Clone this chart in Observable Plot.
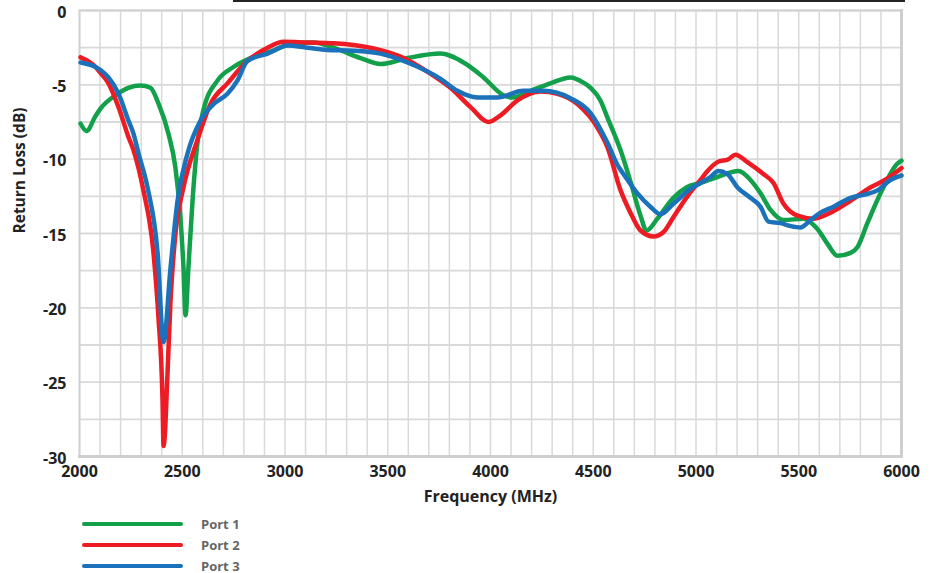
<!DOCTYPE html>
<html>
<head>
<meta charset="utf-8">
<script src="https://cdn.jsdelivr.net/npm/d3@7"></script>
<script src="https://cdn.jsdelivr.net/npm/@observablehq/plot@0.6"></script>
<style>
  body { margin: 0; background: #fff; font-family: "Open Sans", sans-serif; }
  #wrap { position: relative; width: 937px; height: 573px; overflow: hidden; }
  #topline { position: absolute; left: 233px; top: 0; width: 672px; height: 2px; background: #222; }
  #legend { position: absolute; left: 82px; top: 513px; }
  .item { display: flex; align-items: center; height: 21px; }
  .sw { width: 101px; height: 4px; border-radius: 2px; margin-right: 18px; }
  .lab { font-size: 13px; font-weight: 700; color: #666; line-height: 16px; }
</style>
</head>
<body>
<div id="wrap">
  <div id="chart"></div>
  <div id="topline"></div>
  <div id="legend"></div>
</div>
<script>
// ---- data ----
const seriesNames = ["Port 1", "Port 2", "Port 3"];
const seriesColors = ["#12a04b", "#ed1c24", "#1b72bb"];

const port1Freq = [2005, 2034, 2078, 2102, 2175, 2238, 2297, 2345, 2384, 2433, 2467, 2491, 2506, 2516, 2530, 2550, 2574, 2603, 2672, 2749, 2832, 2944, 3041, 3139, 3236, 3367, 3465, 3596, 3757, 3869, 3966, 4063, 4107, 4195, 4292, 4389, 4452, 4487, 4535, 4569, 4633, 4681, 4730, 4759, 4812, 4890, 4953, 5022, 5104, 5207, 5265, 5314, 5362, 5426, 5523, 5591, 5640, 5688, 5752, 5786, 5834, 5898, 5980, 6000];
const port1Loss = [-7.6, -8.1, -7.1, -6.6, -5.7, -5.2, -5.05, -5.2, -6.25, -8.3, -10.6, -13.9, -17.3, -20.5, -17.3, -12.8, -8.9, -6.7, -4.7, -3.8, -3.2, -2.7, -2.2, -2.15, -2.5, -3.2, -3.6, -3.2, -2.9, -3.5, -4.5, -5.7, -5.85, -5.4, -4.9, -4.5, -4.85, -5.2, -6.05, -7.2, -9.4, -11.5, -13.8, -14.8, -14.0, -12.6, -11.9, -11.6, -11.2, -10.8, -11.4, -12.3, -13.4, -14.1, -14.0, -14.7, -15.7, -16.5, -16.3, -15.9, -14.3, -12.3, -10.3, -10.1];

const port2Freq = [2005, 2078, 2102, 2141, 2190, 2238, 2263, 2287, 2311, 2360, 2384, 2404, 2409, 2414, 2428, 2443, 2467, 2506, 2574, 2637, 2720, 2817, 2915, 2993, 3109, 3236, 3431, 3562, 3708, 3805, 3903, 3990, 4049, 4131, 4243, 4326, 4423, 4521, 4569, 4633, 4681, 4730, 4793, 4842, 4890, 4958, 5022, 5056, 5104, 5158, 5192, 5250, 5328, 5377, 5426, 5494, 5572, 5669, 5752, 5849, 5932, 6000];
const port2Loss = [-3.15, -3.8, -4.2, -4.9, -6.5, -8.5, -9.4, -10.6, -12.1, -16.3, -20.6, -26.2, -29.3, -28.8, -24.5, -19.5, -15.0, -11.9, -8.7, -6.3, -4.9, -3.4, -2.5, -2.1, -2.15, -2.2, -2.55, -3.1, -4.25, -5.2, -6.5, -7.5, -7.05, -6.05, -5.45, -5.6, -6.3, -7.9, -9.2, -12.1, -13.6, -14.8, -15.2, -14.9, -13.9, -12.5, -11.4, -10.8, -10.2, -10.0, -9.7, -10.2, -11.0, -11.6, -13.0, -13.8, -14.0, -13.5, -12.8, -11.9, -11.3, -10.6];

const port3Freq = [2005, 2078, 2102, 2141, 2190, 2238, 2263, 2287, 2331, 2380, 2409, 2443, 2477, 2526, 2589, 2652, 2720, 2769, 2817, 2915, 3012, 3109, 3207, 3333, 3465, 3596, 3757, 3839, 3937, 4034, 4160, 4258, 4389, 4487, 4569, 4618, 4647, 4715, 4778, 4827, 4890, 4973, 5022, 5070, 5109, 5153, 5202, 5265, 5314, 5353, 5411, 5460, 5508, 5557, 5606, 5669, 5752, 5815, 5883, 5946, 6000];
const port3Loss = [-3.5, -3.8, -4.0, -4.5, -5.6, -7.4, -8.3, -9.6, -11.9, -16.3, -22.3, -17.3, -12.8, -9.6, -7.4, -6.3, -5.6, -4.7, -3.4, -2.9, -2.35, -2.5, -2.65, -2.7, -2.9, -3.5, -4.6, -5.4, -5.85, -5.85, -5.4, -5.4, -5.9, -6.9, -8.9, -10.4, -11.0, -12.3, -13.2, -13.7, -13.0, -12.0, -11.6, -11.2, -10.8, -11.0, -11.9, -12.6, -13.2, -14.2, -14.3, -14.5, -14.6, -14.1, -13.6, -13.2, -12.6, -12.4, -12.1, -11.4, -11.1];

const xTicks = [2000, 2500, 3000, 3500, 4000, 4500, 5000, 5500, 6000];
const yTicks = [0, -5, -10, -15, -20, -25, -30];
const xGridStep = 100;
const yGridStep = 2.5;
const xLabel = "Frequency (MHz)";
const yLabel = "Return Loss (dB)";

// ---- build table ----
const seriesData = [
  {name: seriesNames[0], freq: port1Freq, loss: port1Loss},
  {name: seriesNames[1], freq: port2Freq, loss: port2Loss},
  {name: seriesNames[2], freq: port3Freq, loss: port3Loss}
];
const rows = [];
seriesData.forEach(s => s.freq.forEach((f, i) => rows.push({series: s.name, freq: f, loss: s.loss[i]})));

const xGrid = d3.range(2000, 6000 + 1, xGridStep);
const yGrid = d3.range(-30, 0 + 0.01, yGridStep);

const chart = Plot.plot({
  width: 937,
  height: 510,
  marginTop: 10,
  marginBottom: 54,
  marginLeft: 79,
  marginRight: 36,
  style: {fontFamily: "'Open Sans', sans-serif", fontWeight: 700, color: "#222", background: "#fff"},
  x: {domain: [2000, 6000]},
  y: {domain: [-30, 0]},
  color: {domain: seriesNames, range: seriesColors},
  marks: [
    Plot.gridX(xGrid, {stroke: "#d9d9d9", strokeOpacity: 1, strokeWidth: 1.5}),
    Plot.gridY(yGrid, {stroke: "#d9d9d9", strokeOpacity: 1, strokeWidth: 1.8}),
    Plot.frame({stroke: "#d2d2d2", strokeWidth: 2}),
    Plot.frame({anchor: "right", stroke: "#cfcfcf", strokeWidth: 3}),
    Plot.frame({anchor: "bottom", stroke: "#cfcfcf", strokeWidth: 3}),
    Plot.line(rows, {x: "freq", y: "loss", z: "series", stroke: "series", strokeWidth: 4.5, curve: "monotone-x", strokeLinejoin: "round", strokeLinecap: "round"}),
    Plot.axisX(xTicks, {tickSize: 0, tickPadding: 9, fontSize: 16, fontWeight: 700, label: null, tickFormat: d => String(d)}),
    Plot.axisY(yTicks, {tickSize: 0, tickPadding: 13, dy: 2, fontSize: 16, fontWeight: 700, label: null, tickFormat: d => String(d)}),
    Plot.text([xLabel], {frameAnchor: "bottom", dy: 45, fontSize: 16, fontWeight: 700, fill: "#222"}),
    Plot.text([yLabel], {frameAnchor: "left", dx: -59, rotate: -90, fontSize: 15.5, fontWeight: 700, fill: "#222"})
  ]
});
document.getElementById("chart").appendChild(chart);

// ---- legend ----
const legend = document.getElementById("legend");
seriesNames.forEach((n, i) => {
  const item = document.createElement("div");
  item.className = "item";
  const sw = document.createElement("div");
  sw.className = "sw";
  sw.style.background = seriesColors[i];
  const lab = document.createElement("span");
  lab.className = "lab";
  lab.textContent = n;
  item.appendChild(sw);
  item.appendChild(lab);
  legend.appendChild(item);
});
</script>
</body>
</html>
